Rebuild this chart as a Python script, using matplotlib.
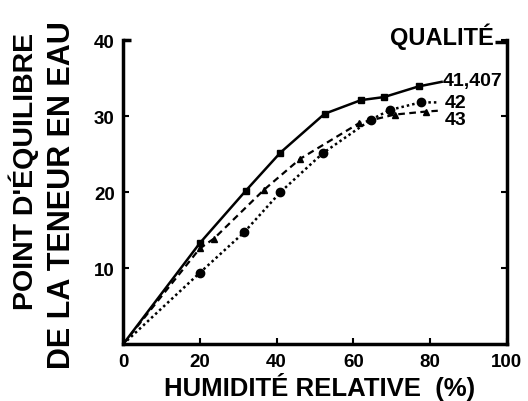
import matplotlib
matplotlib.use('Agg')
import matplotlib.pyplot as plt

# humidité relative (%) et point d'équilibre de la teneur en eau, par qualité
humidite_41 = [0, 20, 32, 41, 52.5, 62, 68, 77, 83]
teneur_41 = [0, 13.3, 20.2, 25.2, 30.3, 32.1, 32.5, 33.9, 34.5]
humidite_42 = [0, 20, 31.5, 41, 52, 64.5, 69.5, 77.5, 82]
teneur_42 = [0, 9.4, 14.7, 20.0, 25.1, 29.5, 30.8, 31.8, 31.8]
humidite_43 = [0, 20, 23.7, 36.7, 46.2, 61.6, 70.8, 79, 82]
teneur_43 = [0, 12.6, 13.9, 20.3, 24.4, 29.1, 30.2, 30.6, 30.7]
qualites = ['41,407', '42', '43']

x_ticks = [0, 20, 40, 60, 80, 100]
y_ticks = [10, 20, 30, 40]

plt.rcParams['font.family'] = ['Liberation Sans', 'DejaVu Sans']
plt.rcParams['font.weight'] = 'bold'

fig = plt.figure(figsize=(5.28, 4.02), dpi=100)
ax = fig.add_axes([0.233, 0.141, 0.727, 0.757])

ax.plot(humidite_41, teneur_41, color='black', linestyle='-', linewidth=1.8,
        marker='s', markersize=4, markevery=range(1, len(humidite_41) - 1))
ax.plot(humidite_42, teneur_42, color='black', linestyle=(0, (1, 1.2)), linewidth=1.8,
        marker='o', markersize=6, markevery=range(1, len(humidite_42) - 1))
ax.plot(humidite_43, teneur_43, color='black', linestyle=(0, (3, 2)), linewidth=1.6,
        marker='^', markersize=5, markevery=range(1, len(humidite_43) - 1))

# étiquettes en bout de courbe
ax.annotate(qualites[0], xy=(humidite_41[-1], teneur_41[-1]), xytext=(1, 1),
            textcoords='offset points', ha='left', va='center', fontsize=14, fontweight='bold',
            annotation_clip=False)
ax.annotate(qualites[1], xy=(humidite_42[-1], teneur_42[-1]), xytext=(5, 0),
            textcoords='offset points', ha='left', va='center', fontsize=14, fontweight='bold',
            annotation_clip=False)
ax.annotate(qualites[2], xy=(humidite_43[-1], teneur_43[-1]), xytext=(5, -6),
            textcoords='offset points', ha='left', va='center', fontsize=14, fontweight='bold',
            annotation_clip=False)

ax.set_xlim(0, 100)
ax.set_ylim(0, 40)
ax.set_xticks(x_ticks)
ax.set_yticks(y_ticks)
ax.tick_params(direction='in', length=4, width=1.5, right=True, labelsize=13.5)
ax.tick_params(axis='x', pad=6)
ax.tick_params(axis='y', pad=6)

for s in ['left', 'right', 'bottom']:
    ax.spines[s].set_linewidth(2.5)
ax.spines['top'].set_visible(False)

# petits bouts du cadre en haut
ax.plot([0, 0.02], [1, 1], color='black', linewidth=2.5, transform=ax.transAxes, clip_on=False,
        solid_capstyle='butt')
ax.plot([0.97, 1.0], [0.993, 0.993], color='black', linewidth=2.5, transform=ax.transAxes,
        clip_on=False, solid_capstyle='butt')
ax.text(0.965, 1.015, 'QUALITÉ', transform=ax.transAxes, ha='right', va='center',
        fontsize=17, fontweight='bold')

fig.text(24 / 528, 1 - 171 / 402, "POINT D'ÉQUILIBRE", rotation=90, ha='center', va='center',
         fontsize=20.5, fontweight='bold')
fig.text(62 / 528, 1 - 195 / 402, 'DE LA TENEUR EN EAU', rotation=90, ha='center', va='center',
         fontsize=22, fontweight='bold')
fig.text(0.605, 1 - 396 / 402, 'HUMIDITÉ RELATIVE  (%)', ha='center', va='baseline',
         fontsize=18.5, fontweight='bold')

fig.savefig('out.png', dpi=100)
